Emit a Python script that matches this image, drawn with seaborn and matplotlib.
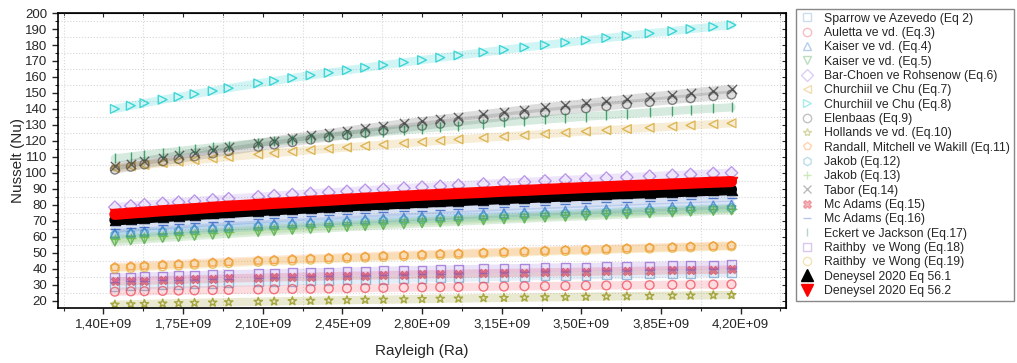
import numpy as np
import pandas as pd
import seaborn as sns
import matplotlib
matplotlib.use('Agg')
from matplotlib import pyplot as plt
from matplotlib.lines import Line2D
from matplotlib.ticker import MultipleLocator, FuncFormatter

# Rayleigh numbers (shared by all correlations)
ra = [1.45e9, 1.52e9, 1.58e9, 1.66e9, 1.73e9, 1.80e9, 1.88e9, 1.95e9, 2.08e9, 2.15e9, 2.23e9,
      2.31e9, 2.39e9, 2.47e9, 2.55e9, 2.63e9, 2.72e9, 2.80e9, 2.88e9, 2.96e9, 3.07e9, 3.16e9,
      3.25e9, 3.34e9, 3.43e9, 3.52e9, 3.61e9, 3.70e9, 3.80e9, 3.90e9, 3.98e9, 4.08e9, 4.16e9]

# Nusselt values
nu_sparrow = [29.0, 29.3, 29.6, 29.9, 30.2, 30.5, 30.8, 31.1, 31.6, 31.8, 32.1, 32.4, 32.7, 32.9, 33.2, 33.4, 33.7,
              34.0, 34.2, 34.4, 34.7, 35.0, 35.2, 35.5, 35.7, 35.9, 36.2, 36.4, 36.7, 36.9, 37.1, 37.3, 37.5]
nu_auletta = [25.6, 25.8, 25.9, 26.1, 26.3, 26.4, 26.6, 26.7, 27.0, 27.1, 27.3, 27.4, 27.6, 27.7, 27.9, 28.0, 28.2,
              28.3, 28.4, 28.5, 28.7, 28.8, 29.0, 29.1, 29.2, 29.4, 29.5, 29.6, 29.7, 29.9, 30.0, 30.1, 30.2]
nu_kaiser4 = [62.0, 62.7, 63.2, 64.0, 64.6, 65.2, 65.9, 66.5, 67.5, 68.0, 68.6, 69.2, 69.8, 70.3, 70.9, 71.4, 72.0,
              72.5, 73.0, 73.5, 74.2, 74.7, 75.2, 75.7, 76.2, 76.7, 77.2, 77.7, 78.2, 78.7, 79.1, 79.6, 80.0]
nu_kaiser5 = [57.0, 57.7, 58.4, 59.2, 59.8, 60.5, 61.2, 61.8, 62.9, 63.5, 64.2, 64.8, 65.4, 66.0, 66.6, 67.2, 67.8,
              68.4, 68.9, 69.5, 70.2, 70.8, 71.3, 71.9, 72.4, 72.9, 73.5, 74.0, 74.6, 75.1, 75.6, 76.1, 76.5]
nu_barchoen = [78.5, 79.3, 80.0, 80.9, 81.6, 82.3, 83.1, 83.8, 85.0, 85.7, 86.4, 87.1, 87.8, 88.4, 89.1, 89.7, 90.4,
               91.0, 91.6, 92.2, 93.0, 93.7, 94.3, 94.9, 95.5, 96.1, 96.7, 97.2, 97.9, 98.5, 99.0, 99.6, 100.0]
nu_churchill7 = [103.0, 104.1, 104.9, 106.1, 107.0, 108.0, 109.0, 109.9, 111.5, 112.3, 113.3, 114.2, 115.1, 115.9,
                 116.8, 117.6, 118.5, 119.3, 120.1, 120.9, 121.9, 122.7, 123.5, 124.3, 125.1, 125.9, 126.7, 127.4,
                 128.2, 129.0, 129.7, 130.4, 131.0]
nu_churchill8 = [140.0, 142.0, 143.6, 145.8, 147.5, 149.3, 151.2, 153.0, 156.0, 157.5, 159.3, 161.0, 162.6, 164.2,
                 165.8, 167.4, 169.1, 170.6, 172.1, 173.5, 175.4, 177.0, 178.5, 180.0, 181.5, 182.9, 184.4, 185.7,
                 187.3, 188.7, 190.0, 191.4, 192.5]
nu_elenbaas = [102.0, 103.8, 105.3, 107.2, 108.7, 110.3, 112.1, 113.6, 116.3, 117.7, 119.2, 120.8, 122.2, 123.7,
               125.1, 126.5, 128.1, 129.4, 130.7, 132.0, 133.7, 135.1, 136.5, 137.8, 139.1, 140.4, 141.7, 142.9,
               144.3, 145.6, 146.7, 148.0, 149.0]
nu_hollands = [17.5, 17.7, 17.9, 18.2, 18.4, 18.6, 18.8, 19.0, 19.3, 19.5, 19.7, 19.9, 20.1, 20.3, 20.5, 20.6, 20.8,
               21.0, 21.2, 21.3, 21.6, 21.7, 21.9, 22.1, 22.2, 22.4, 22.6, 22.7, 22.9, 23.1, 23.2, 23.4, 23.5]
nu_randall = [41.0, 41.5, 41.9, 42.5, 42.9, 43.4, 43.9, 44.3, 45.1, 45.5, 46.0, 46.4, 46.8, 47.2, 47.6, 48.1, 48.5,
              48.9, 49.3, 49.6, 50.1, 50.5, 50.9, 51.3, 51.7, 52.0, 52.4, 52.8, 53.2, 53.5, 53.9, 54.2, 54.5]
nu_jakob12 = [61.0, 61.7, 62.2, 62.9, 63.4, 64.0, 64.6, 65.2, 66.2, 66.7, 67.2, 67.8, 68.3, 68.9, 69.4, 69.9, 70.4,
              70.9, 71.4, 71.9, 72.5, 73.0, 73.5, 74.0, 74.4, 74.9, 75.4, 75.8, 76.3, 76.8, 77.2, 77.6, 78.0]
nu_jakob13 = [58.5, 59.2, 59.8, 60.6, 61.2, 61.9, 62.6, 63.2, 64.3, 64.9, 65.5, 66.1, 66.7, 67.3, 67.9, 68.4, 69.0,
              69.6, 70.1, 70.6, 71.3, 71.9, 72.4, 73.0, 73.5, 74.0, 74.6, 75.1, 75.6, 76.1, 76.6, 77.1, 77.5]
nu_tabor = [104.0, 105.8, 107.4, 109.3, 110.9, 112.6, 114.4, 116.0, 118.7, 120.2, 121.8, 123.4, 124.9, 126.4,
            127.9, 129.3, 130.9, 132.3, 133.6, 135.0, 136.7, 138.2, 139.6, 141.0, 142.3, 143.6, 145.0, 146.2,
            147.7, 149.0, 150.2, 151.5, 152.5]
nu_mcadams15 = [32.0, 32.3, 32.5, 32.8, 33.1, 33.3, 33.6, 33.9, 34.3, 34.5, 34.8, 35.0, 35.2, 35.5, 35.7, 35.9, 36.2,
                36.4, 36.6, 36.8, 37.1, 37.3, 37.5, 37.7, 37.9, 38.1, 38.3, 38.5, 38.8, 39.0, 39.1, 39.3, 39.5]
nu_mcadams16 = [65.0, 65.7, 66.4, 67.2, 67.8, 68.5, 69.2, 69.8, 70.9, 71.5, 72.2, 72.8, 73.4, 74.0, 74.6, 75.2, 75.8,
                76.4, 76.9, 77.5, 78.2, 78.8, 79.3, 79.9, 80.4, 80.9, 81.5, 82.0, 82.6, 83.1, 83.6, 84.1, 84.5]
nu_eckert = [109.0, 110.2, 111.2, 112.5, 113.6, 114.7, 115.9, 116.9, 118.7, 119.7, 120.7, 121.8, 122.8, 123.8,
             124.7, 125.7, 126.7, 127.7, 128.5, 129.4, 130.6, 131.6, 132.5, 133.4, 134.3, 135.2, 136.0, 136.9,
             137.8, 138.7, 139.5, 140.3, 141.0]
nu_raithby18 = [34.5, 34.8, 35.1, 35.4, 35.6, 35.9, 36.2, 36.5, 36.9, 37.2, 37.4, 37.7, 37.9, 38.2, 38.4, 38.7, 38.9,
                39.2, 39.4, 39.6, 39.9, 40.1, 40.4, 40.6, 40.8, 41.0, 41.3, 41.5, 41.7, 41.9, 42.1, 42.3, 42.5]
nu_raithby19 = [40.0, 40.5, 41.0, 41.5, 42.0, 42.5, 43.0, 43.5, 44.3, 44.7, 45.1, 45.6, 46.0, 46.5, 46.9, 47.3, 47.8,
                48.2, 48.6, 48.9, 49.5, 49.9, 50.3, 50.7, 51.1, 51.4, 51.8, 52.2, 52.6, 53.0, 53.3, 53.7, 54.0]
nu_deney1 = [70.5, 71.2, 71.8, 72.6, 73.2, 73.9, 74.6, 75.2, 76.3, 76.9, 77.5, 78.1, 78.7, 79.3, 79.9, 80.4, 81.0,
             81.6, 82.1, 82.6, 83.3, 83.9, 84.4, 85.0, 85.5, 86.0, 86.6, 87.1, 87.6, 88.1, 88.6, 89.1, 89.5]
nu_deney2 = [74.0, 74.8, 75.4, 76.3, 76.9, 77.6, 78.4, 79.1, 80.2, 80.9, 81.5, 82.2, 82.8, 83.5, 84.1, 84.7, 85.4,
             86.0, 86.5, 87.1, 87.8, 88.5, 89.0, 89.6, 90.2, 90.8, 91.3, 91.9, 92.5, 93.0, 93.5, 94.1, 94.5]

labels = ['Sparrow ve Azevedo (Eq 2)', 'Auletta ve vd. (Eq.3)', 'Kaiser ve vd. (Eq.4)', 'Kaiser ve vd. (Eq.5)',
          'Bar-Choen ve Rohsenow (Eq.6)', 'Churchiil ve Chu (Eq.7)', 'Churchiil ve Chu (Eq.8)', 'Elenbaas (Eq.9)',
          'Hollands ve vd. (Eq.10)', 'Randall, Mitchell ve Wakill (Eq.11)', 'Jakob (Eq.12)', 'Jakob (Eq.13)',
          'Tabor (Eq.14)', 'Mc Adams (Eq.15)', 'Mc Adams (Eq.16)', 'Eckert ve Jackson (Eq.17)',
          'Raithby  ve Wong (Eq.18)', 'Raithby  ve Wong (Eq.19)', 'Deneysel 2020 Eq 56.1', 'Deneysel 2020 Eq 56.2']
series = [nu_sparrow, nu_auletta, nu_kaiser4, nu_kaiser5, nu_barchoen, nu_churchill7, nu_churchill8, nu_elenbaas,
          nu_hollands, nu_randall, nu_jakob12, nu_jakob13, nu_tabor, nu_mcadams15, nu_mcadams16, nu_eckert,
          nu_raithby18, nu_raithby19, nu_deney1, nu_deney2]

# style per series: marker, colour, filled
styles = [('s', '#6f9fcf', False), ('o', '#f04050', False), ('^', '#3070d0', False), ('v', '#40a040', False),
          ('D', '#a070e0', False), ('<', '#d4a020', False), ('>', '#00c8c8', False), ('o', '#505050', False),
          ('*', '#8a8a00', False), ('p', '#ff8020', False), ('h', '#3aa0c0', False), ('+', '#70c040', False),
          ('x', '#404040', False), ('X', '#e03040', True), ('_', '#3060c0', False), ('|', '#209050', False),
          ('s', '#9060d0', False), ('o', '#e0b030', False), ('^', '#000000', True), ('v', '#ff0000', True)]

sns.set_style('ticks')
plt.rcParams['font.family'] = ['Liberation Sans', 'DejaVu Sans']

fig = plt.figure(figsize=(10.17, 3.63), dpi=100)
ax = fig.add_axes([0.057, 0.152, 0.716, 0.812])

handles = []
for lbl, nu, (m, c, filled) in zip(labels, series, styles):
    deney = lbl.startswith('Deneysel')
    # pale band behind the markers (dense measurement points in the original)
    sns.lineplot(x=ra, y=nu, color=c, lw=8 if deney else 6, alpha=1.0 if deney else 0.18,
                 sort=False, ax=ax, legend=False)
    if m in ['+', 'x', '|', '_']:
        sns.scatterplot(x=ra, y=nu, marker=m, s=45, color=c, linewidth=1.0, alpha=0.8, ax=ax)
    elif filled:
        sns.scatterplot(x=ra, y=nu, marker=m, s=60 if deney else 40, color=c, edgecolor=c,
                        linewidth=0.5, alpha=1.0 if deney else 0.6, ax=ax)
    else:
        sns.scatterplot(x=ra, y=nu, marker=m, s=40, facecolor='none', edgecolor=c,
                        linewidth=1.0, alpha=0.7, ax=ax)
    handles.append(Line2D([], [], ls='none', marker=m, markersize=8 if deney else 6,
                          markerfacecolor=c if (filled or deney) else 'none', markeredgecolor=c,
                          color=c, alpha=1.0 if deney else 0.35, label=lbl))

ax.set_xlim(1.2e9, 4.4e9)
ax.set_ylim(15.5, 200)
ax.xaxis.set_major_locator(MultipleLocator(0.35e9))
ax.xaxis.set_minor_locator(MultipleLocator(0.175e9))
ax.yaxis.set_major_locator(MultipleLocator(10))
ax.yaxis.set_minor_locator(MultipleLocator(5))
ax.xaxis.set_major_formatter(FuncFormatter(lambda v, p: f'{v:.2E}'.replace('.', ',')))
ax.grid(which='minor', color='#d8d8d8', ls=':', lw=0.8)
ax.grid(which='major', visible=False)
ax.tick_params(which='major', direction='out', length=4, width=1, labelsize=9.5)
ax.tick_params(which='minor', direction='out', length=2.5, width=0.8)
for sp in ax.spines.values():
    sp.set_linewidth(1.2)
    sp.set_color('black')

top = ax.secondary_xaxis('top')
top.xaxis.set_major_locator(MultipleLocator(0.35e9))
top.xaxis.set_minor_locator(MultipleLocator(0.175e9))
top.tick_params(which='both', direction='in', labeltop=False, length=3)
right = ax.secondary_yaxis('right')
right.yaxis.set_major_locator(MultipleLocator(10))
right.yaxis.set_minor_locator(MultipleLocator(5))
right.tick_params(which='both', direction='in', labelright=False, length=3)

ax.set_xlabel('Rayleigh (Ra)', fontsize=11, labelpad=10)
ax.set_ylabel('Nusselt (Nu)', fontsize=11, labelpad=0.5)

fig.legend(handles=handles, loc='upper left', bbox_to_anchor=(0.783, 0.975), fontsize=8.8,
           frameon=True, fancybox=False, edgecolor='#888888', framealpha=1, labelspacing=0.19,
           handlelength=1.2, handletextpad=0.8, borderpad=0.3, borderaxespad=0)

plt.savefig('out.png', dpi=100)
